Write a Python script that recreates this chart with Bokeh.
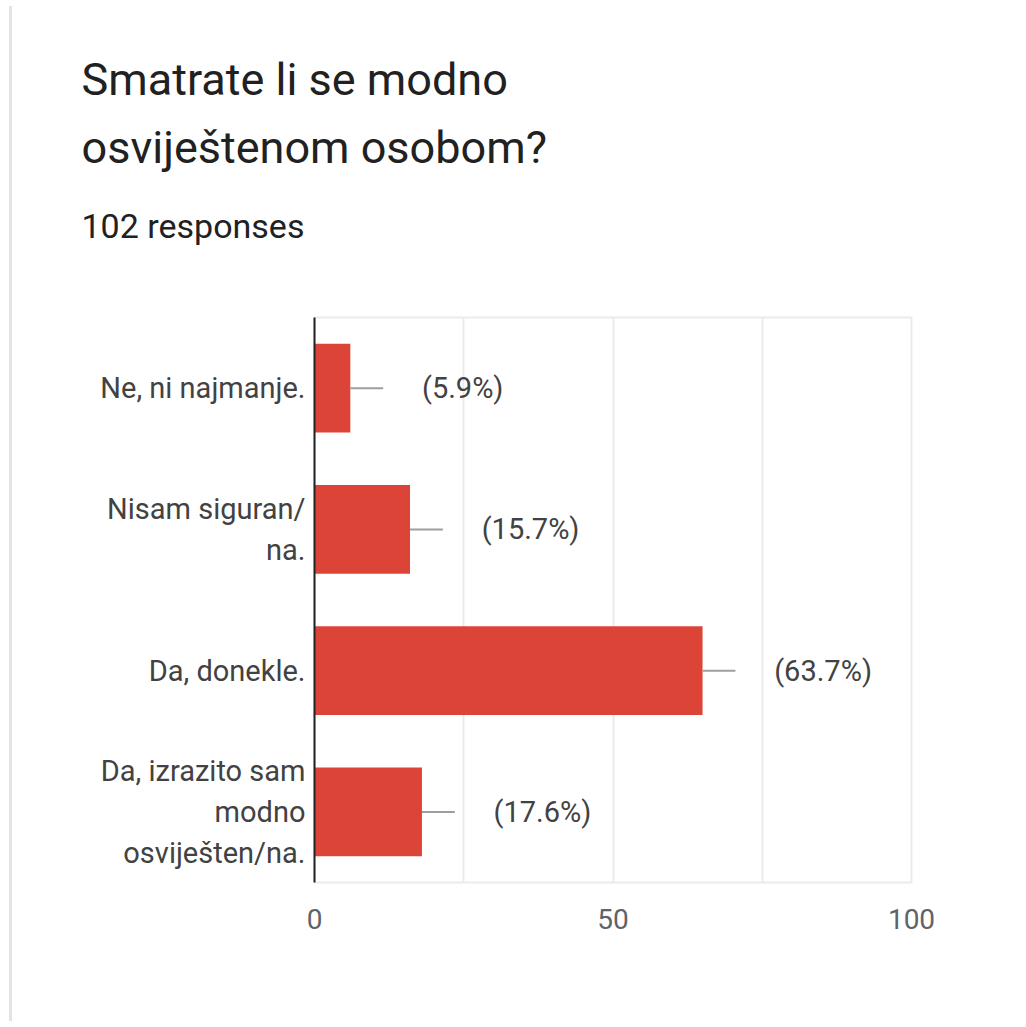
from bokeh.plotting import figure
from bokeh.models import Range1d, FixedTicker, Title, ColumnDataSource
from bokeh.embed import file_html
from bokeh.resources import INLINE
from bokeh.core.properties import value

title_lines = ["Smatrate li se modno", "osviještenom osobom?"]
subtitle = "102 responses"
categories = ["Ne, ni najmanje.", "Nisam siguran/\nna.", "Da, donekle.",
              "Da, izrazito sam\nmodno\nosviješten/na."]
counts = [6, 16, 65, 18]
pct_labels = ["(5.9%)", "(15.7%)", "(63.7%)", "(17.6%)"]
x_ticks = [0, 50, 100]
grid_ticks = [0, 25, 50, 75, 100]

W, H = 1010, 1015
FONT = "Roboto"
ypos = list(range(len(categories)))

p = figure(width=W, height=H, output_backend="svg", toolbar_location=None,
           x_range=Range1d(0, 100), y_range=Range1d(len(categories) - 0.5, -0.5),
           min_border_left=302, min_border_right=111, min_border_top=311,
           min_border_bottom=139)
p.title = None
p.styles = {"border-left": "3px solid #e2e2ea", "margin-left": "9px",
            "margin-top": "6px"}
p.background_fill_color = "white"
p.border_fill_color = "white"
p.outline_line_color = "#ebebeb"
p.outline_line_width = 2

src = ColumnDataSource(dict(y=ypos, right=counts, lab=pct_labels,
                            lx0=counts, lx1=[c + 5.5 for c in counts],
                            tx=[c + 12 for c in counts]))
p.hbar(y="y", left=0, right="right", height=0.63, source=src,
       fill_color="#db4437", line_color=None)
p.segment(x0="lx0", x1="lx1", y0="y", y1="y", source=src,
          line_color="#9e9e9e", line_width=2)
p.text(x="tx", y="y", text="lab", source=src, text_align="left",
       text_baseline="middle", text_font=value(FONT), text_font_size="29px",
       text_color="#424242")

# axes
p.xaxis.ticker = FixedTicker(ticks=x_ticks)
p.xaxis.axis_line_color = None
p.xaxis.major_tick_line_color = None
p.xaxis.minor_tick_line_color = None
p.xaxis.major_label_standoff = 20
p.xaxis.major_label_text_font = FONT
p.xaxis.major_label_text_font_size = "28px"
p.xaxis.major_label_text_color = "#5f6368"

p.yaxis.ticker = FixedTicker(ticks=ypos)
p.yaxis.major_label_overrides = {i: c for i, c in zip(ypos, categories)}
p.yaxis.axis_line_color = "#222222"
p.yaxis.axis_line_width = 2
p.yaxis.major_tick_line_color = None
p.yaxis.minor_tick_line_color = None
p.yaxis.major_label_standoff = 3
p.yaxis.major_label_text_font = FONT
p.yaxis.major_label_text_font_size = "29px"
p.yaxis.major_label_text_color = "#424242"
p.yaxis.major_label_text_line_height = 1.2


p.xgrid.ticker = FixedTicker(ticks=grid_ticks)
p.xgrid.grid_line_color = "#ebebeb"
p.xgrid.grid_line_width = 2
p.ygrid.grid_line_color = None


def spacer(gap):
    return Title(text=" ", text_font_size="1px", standoff=gap)


def heading(text, size):
    return Title(text=text, text_font=FONT, text_font_size=size,
                 text_font_style="normal", text_color="#212121",
                 align="left", offset=-233, standoff=0)


# titles stacked above the frame (later additions sit further up)
p.add_layout(spacer(69), "above")
p.add_layout(heading(subtitle, "34px"), "above")
p.add_layout(spacer(27), "above")
p.add_layout(heading(title_lines[1], "45px"), "above")
p.add_layout(spacer(10), "above")
p.add_layout(heading(title_lines[0], "45px"), "above")

open("out.html", "w").write(file_html(p, INLINE))
